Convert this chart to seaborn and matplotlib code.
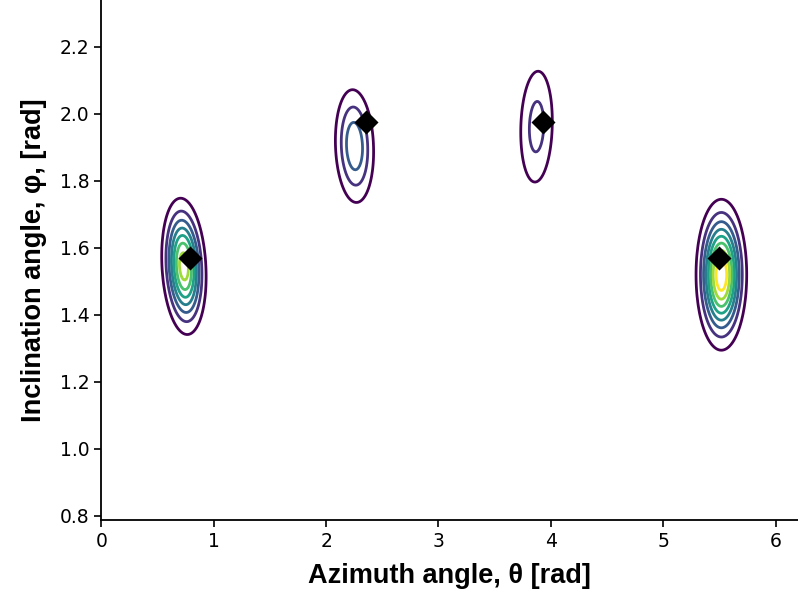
import numpy as np
import matplotlib
matplotlib.use("Agg")
import matplotlib.pyplot as plt
import seaborn as sns

# source peaks of the density (theta, phi in rad)
peak_amp = [7.6, 3.8, 2.4, 8.8]
peak_theta = [0.735, 2.253, 3.873, 5.518]
peak_phi = [1.545, 1.904, 1.962, 1.520]
peak_sig_theta = [0.098, 0.104, 0.106, 0.108]
peak_sig_phi = [0.101, 0.103, 0.125, 0.108]
peak_rho = [-0.15, -0.10, 0.10, 0.0]

# true source directions (black diamonds)
src_theta = [0.785, 2.356, 3.927, 5.498]
src_phi = [1.571, 1.976, 1.976, 1.571]

levels = [1, 2, 3, 4, 5, 6, 7, 8]

sns.set_style("ticks")

theta = np.linspace(0, 6.2, 500)
phi = np.linspace(0.78, 2.36, 500)
TH, PH = np.meshgrid(theta, phi)
Z = np.zeros_like(TH)
for a, mx, my, sx, sy, r in zip(peak_amp, peak_theta, peak_phi,
                                peak_sig_theta, peak_sig_phi, peak_rho):
    dx = (TH - mx) / sx
    dy = (PH - my) / sy
    q = (dx**2 - 2 * r * dx * dy + dy**2) / (1 - r**2)
    Z += a * np.exp(-0.5 * q)

fig = plt.figure(figsize=(7.98, 6.05), dpi=100)
ax = fig.add_axes([0.127, 0.1405, 0.873, 0.8595])

ax.contour(TH, PH, Z, levels=levels, cmap="viridis", linewidths=2.0)
sns.scatterplot(x=src_theta, y=src_phi, marker="D", s=150, color="black",
                edgecolor="black", linewidth=0, zorder=5, ax=ax)

ax.set_xlim(0, 6.2)
ax.set_ylim(0.788, 2.34)
ax.set_xticks([0, 1, 2, 3, 4, 5, 6])
ax.set_yticks([0.8, 1.0, 1.2, 1.4, 1.6, 1.8, 2.0, 2.2])
ax.tick_params(labelsize=13.5, length=5, width=1.2, color="black", labelcolor="black")

lab_font = dict(family=["Liberation Sans", "DejaVu Sans"], fontsize=19.5,
                fontweight="bold", color="black")
ax.set_xlabel("Azimuth angle, θ [rad]", labelpad=9, **lab_font)
ax.set_ylabel("Inclination angle, φ, [rad]", labelpad=9, **lab_font)

for s in ["left", "bottom"]:
    ax.spines[s].set_color("black")
    ax.spines[s].set_linewidth(1.3)
sns.despine(ax=ax)

fig.savefig("out.png", dpi=100)
